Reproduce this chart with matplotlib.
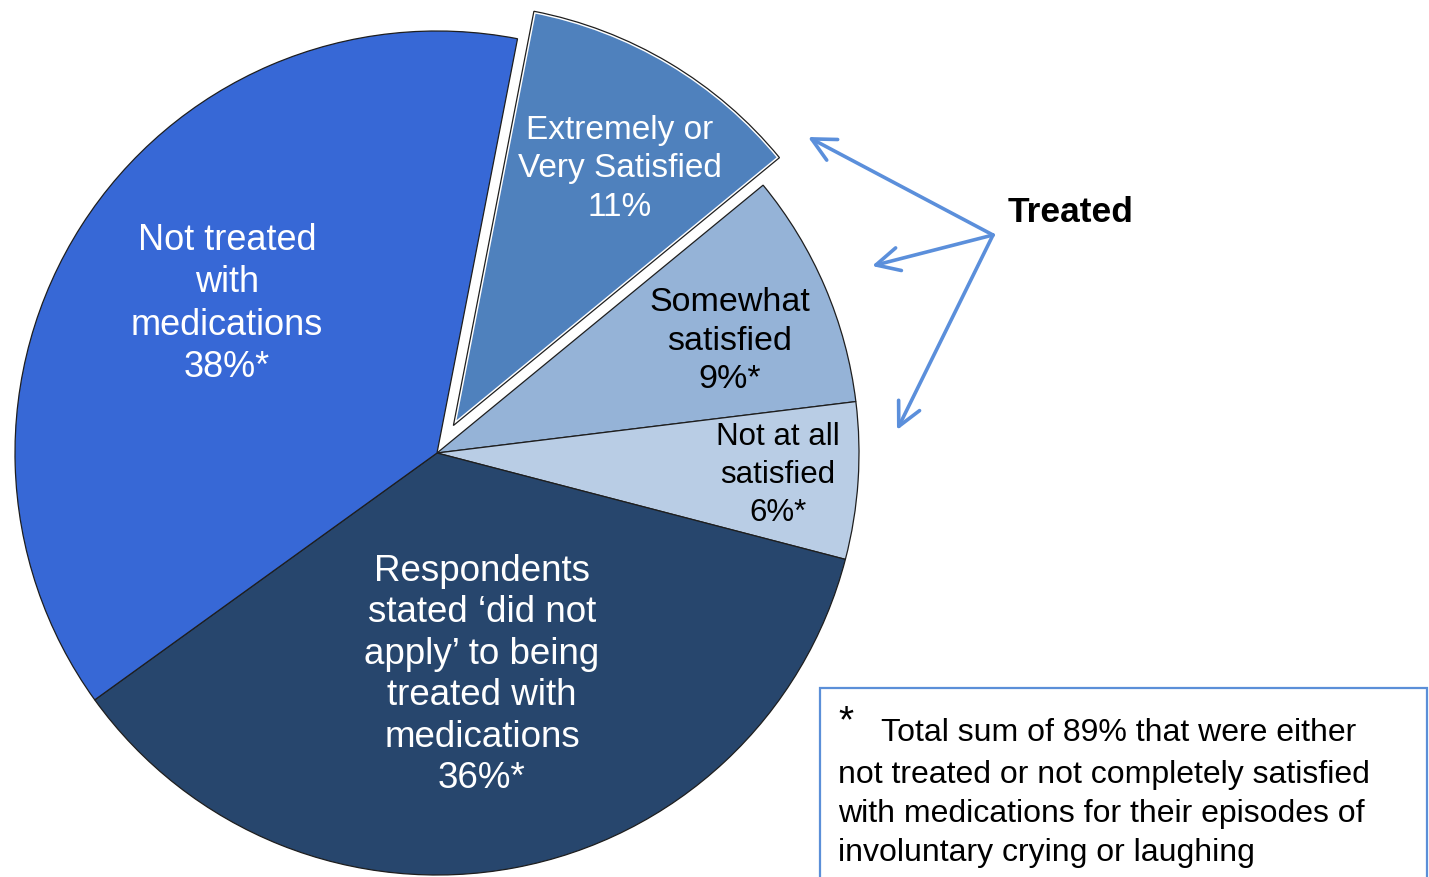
import matplotlib.pyplot as plt
from matplotlib import font_manager

# slice data, clockwise from the top
labels = ["Extremely or\nVery Satisfied\n11%",
          "Somewhat\nsatisfied\n9%*",
          "Not at all\nsatisfied\n6%*",
          "Respondents\nstated \u2018did not\napply\u2019 to being\ntreated with\nmedications\n36%*",
          "Not treated\nwith\nmedications\n38%*"]
values = [11, 9, 6, 36, 38]
colors = ["#4f81bd", "#95b3d7", "#b9cde5", "#27466d", "#3768d6"]
text_colors = ["white", "black", "black", "white", "white"]
explode = [32, 0, 0, 0, 0]  # pixels

footnote_lines = ["Total sum of 89% that were either",
                  "not treated or not completely satisfied",
                  "with medications for their episodes of",
                  "involuntary crying or laughing"]

W, H = 1429, 877
CX, CY, R = 437, 453, 422

def fy(y):
    # image rows -> axes y
    return H - y

names = {f.name for f in font_manager.fontManager.ttflist}
narrow = "Liberation Sans Narrow" in names
plt.rcParams['font.family'] = ['Liberation Sans', 'DejaVu Sans']

fig = plt.figure(figsize=(W / 100, H / 100), dpi=100)
ax = fig.add_axes([0, 0, 1, 1])

wedges, _ = ax.pie(values, colors=colors, explode=explode, startangle=79,
                   counterclock=False, radius=R, center=(CX, fy(CY)),
                   wedgeprops=dict(edgecolor="#1e1e1e", linewidth=0.9))
# white rim around the pulled-out slice
wedges[0].set_edgecolor("white")
wedges[0].set_linewidth(3)
w0 = plt.matplotlib.patches.Wedge(wedges[0].center, wedges[0].r,
                                  wedges[0].theta1, wedges[0].theta2,
                                  facecolor="none", edgecolor="#1e1e1e",
                                  linewidth=0.9, zorder=3)
ax.add_patch(w0)

# label positions (x, y, size, line spacing)
label_pos = [(620, 169, 24, 1.3), (730, 341, 24.5, 1.32), (778, 475, 22.5, 1.36),
             (482, 675, 26.5, 1.24), (227, 304, 26, 1.26)]
for txt, (x, y, s, ls), c in zip(labels, label_pos, text_colors):
    ax.text(x, fy(y), txt, ha="center", va="center", fontsize=s,
            color=c, linespacing=ls, zorder=5)

# "Treated" callout arrows
arrow_color = "#5b8fdb"
origin = (993, 235)
targets = [(808, 137), (872, 266), (897, 430)]
for tx, ty in targets:
    ax.annotate("", xy=(tx, fy(ty)), xytext=(origin[0], fy(origin[1])),
                arrowprops=dict(arrowstyle="->,head_length=0.6,head_width=0.3",
                                color=arrow_color, lw=2.6, mutation_scale=28,
                                shrinkA=0, shrinkB=0))
ax.text(1008, fy(213), "Treated", ha="left", va="center", fontsize=25.5,
        fontweight="bold", color="black")

# footnote box
ax.add_patch(plt.Rectangle((820, fy(900)), 607, 900 - 688, facecolor="white",
                           edgecolor="#5b8fd8", linewidth=1.6, zorder=4))
ax.text(838, fy(722), "*", ha="left", va="center", fontsize=28, zorder=5)
if narrow:
    fam, fs = ["Liberation Sans Narrow", "Liberation Sans"], 28
else:
    fam, fs = ["Liberation Sans", "DejaVu Sans"], 23
line_y = [733, 775, 814, 853]
for i, (line, y) in enumerate(zip(footnote_lines, line_y)):
    x = 881 if i == 0 else 838
    ax.text(x, fy(y), line, ha="left", va="center", fontsize=fs,
            family=fam, zorder=5)

ax.set_xlim(0, W)
ax.set_ylim(0, H)
ax.set_aspect("auto")
ax.axis("off")

fig.savefig("out.png", dpi=100)
